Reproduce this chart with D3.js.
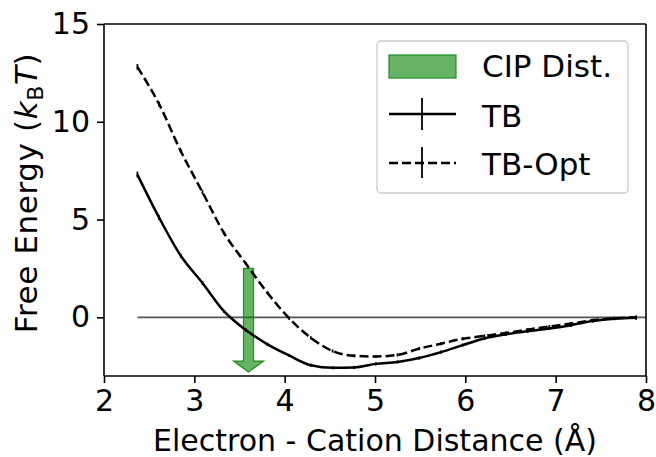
<!doctype html>
<html lang="en">
<head>
  <meta charset="UTF-8" />
  <script src="https://cdn.jsdelivr.net/npm/d3@7"></script>
  <style>
    body { margin: 0; background: white; }
    text { font-family: "DejaVu Sans", sans-serif; fill: black; }
    .axis path, .axis line { stroke: black; stroke-width: 1.6; }
    .axis text { font-size: 30px; }
  </style>
  <title>Free Energy</title>
</head>
<body>
  <script>
    // distances (Å)
    var dist = [2.37, 2.61, 2.85, 3.09, 3.33, 3.57, 3.81, 4.05, 4.29, 4.53, 4.77, 5.01,
      5.25, 5.49, 5.73, 5.97, 6.21, 6.45, 6.69, 6.93, 7.17, 7.41, 7.65, 7.89];
    var tb = [7.3, 5.1, 3.15, 1.76, 0.3, -0.65, -1.38, -1.95, -2.45, -2.58, -2.56, -2.38,
      -2.28, -2.08, -1.78, -1.42, -1.08, -0.87, -0.71, -0.57, -0.40, -0.19, -0.07, -0.02];
    var tbOpt = [12.8, 10.9, 8.5, 6.4, 4.3, 2.75, 1.25, -0.05, -1.05, -1.72, -1.97, -2.0,
      -1.92, -1.6, -1.35, -1.1, -0.95, -0.8, -0.63, -0.47, -0.32, -0.15, -0.05, 0.0];
    var tbErr = [0.15, 0.12, 0.1, 0.1, 0.08, 0.08, 0.08, 0.08, 0.08, 0.08, 0.08, 0.08,
      0.08, 0.08, 0.08, 0.08, 0.08, 0.08, 0.08, 0.08, 0.08, 0.08, 0.08, 0.1];
    var optErr = [0.15, 0.12, 0.1, 0.1, 0.08, 0.08, 0.08, 0.08, 0.08, 0.08, 0.08, 0.08,
      0.08, 0.08, 0.08, 0.08, 0.08, 0.08, 0.08, 0.08, 0.08, 0.08, 0.08, 0.1];
    var xTicks = [2, 3, 4, 5, 6, 7, 8];
    var yTicks = [0, 5, 10, 15];
    var cipX = 3.6, cipTop = 2.5, cipBottom = -2.8;
    var zeroLine = [2.37, 8];
    var legendLabels = ["CIP Dist.", "TB", "TB-Opt"];

    var W = 656, H = 457;
    var svg = d3.select("body").append("svg").attr("width", W).attr("height", H);

    var x = d3.scaleLinear().domain([2, 8]).range([104, 646]);
    var y = d3.scaleLinear().domain([-3, 15]).range([376, 24]);

    // zero reference line
    svg.append("line")
      .attr("x1", x(zeroLine[0])).attr("x2", x(zeroLine[1]))
      .attr("y1", y(0)).attr("y2", y(0))
      .attr("stroke", "#555").attr("stroke-width", 1.6);

    // CIP arrow
    var shaftHalf = 5, headHalf = 15, headLen = 11;
    var ax = x(cipX), aTop = y(cipTop), aTip = y(cipBottom);
    svg.append("path")
      .attr("d", "M" + (ax - shaftHalf) + "," + aTop +
        "H" + (ax + shaftHalf) + "V" + (aTip - headLen) +
        "H" + (ax + headHalf) + "L" + ax + "," + aTip +
        "L" + (ax - headHalf) + "," + (aTip - headLen) +
        "H" + (ax - shaftHalf) + "Z")
      .attr("fill", "rgba(0,128,0,0.6)")
      .attr("stroke", "rgb(30,140,30)").attr("stroke-width", 1.2);

    var line = d3.line()
      .curve(d3.curveMonotoneX)
      .x(function (d) { return x(d[0]); })
      .y(function (d) { return y(d[1]); });

    function drawSeries(vals, errs, dash) {
      var pts = dist.map(function (d, i) { return [d, vals[i], errs[i]]; });
      svg.append("path").datum(pts)
        .attr("d", line)
        .attr("fill", "none").attr("stroke", "black").attr("stroke-width", 2.5)
        .attr("stroke-dasharray", dash);
      svg.append("g").selectAll("line").data(pts).enter().append("line")
        .attr("x1", function (d) { return x(d[0]); })
        .attr("x2", function (d) { return x(d[0]); })
        .attr("y1", function (d) { return y(d[1] - d[2]); })
        .attr("y2", function (d) { return y(d[1] + d[2]); })
        .attr("stroke", "black").attr("stroke-width", 1.8);
    }
    drawSeries(tb, tbErr, null);
    drawSeries(tbOpt, optErr, "9,4");

    // axes
    svg.append("g").attr("class", "axis")
      .attr("transform", "translate(0," + y(-3) + ")")
      .call(d3.axisBottom(x).tickValues(xTicks).tickSize(7).tickPadding(7).tickFormat(d3.format("d")))
      .call(function (g) { g.select(".domain").attr("d", "M104,0H646"); });
    svg.append("g").attr("class", "axis")
      .attr("transform", "translate(" + x(2) + ",0)")
      .call(d3.axisLeft(y).tickValues(yTicks).tickSize(7).tickPadding(7).tickFormat(d3.format("d")))
      .call(function (g) { g.select(".domain").attr("d", "M0,24V376"); });
    svg.append("line").attr("x1", 104).attr("x2", 646).attr("y1", 24).attr("y2", 24)
      .attr("stroke", "black").attr("stroke-width", 1.6);
    svg.append("line").attr("x1", 646).attr("x2", 646).attr("y1", 24).attr("y2", 376)
      .attr("stroke", "black").attr("stroke-width", 1.6);
    svg.selectAll(".axis .tick text").attr("fill", "black");

    // axis labels
    svg.append("text")
      .attr("x", (104 + 646) / 2).attr("y", 451)
      .attr("text-anchor", "middle").style("font-size", "30px")
      .text("Electron - Cation Distance (Å)");

    var yl = svg.append("text")
      .attr("transform", "translate(37,193) rotate(-90)")
      .attr("text-anchor", "middle").style("font-size", "31px")
      .style("letter-spacing", "0.6px");
    yl.append("tspan").text("Free Energy (");
    yl.append("tspan").style("font-style", "italic").text("k");
    yl.append("tspan").style("font-size", "22px").attr("dy", 6).text("B");
    yl.append("tspan").style("font-style", "italic").attr("dy", -6).text("T");
    yl.append("tspan").text(")");

    // legend
    var lg = svg.append("g");
    lg.append("rect").attr("x", 377).attr("y", 41).attr("width", 251).attr("height", 152)
      .attr("rx", 4).attr("fill", "white").attr("stroke", "#ccc").attr("stroke-width", 1.3);
    lg.append("rect").attr("x", 389).attr("y", 55).attr("width", 67).attr("height", 23)
      .attr("fill", "rgba(0,128,0,0.6)").attr("stroke", "rgb(30,140,30)").attr("stroke-width", 1.2);
    lg.append("line").attr("x1", 389).attr("x2", 456).attr("y1", 114).attr("y2", 114)
      .attr("stroke", "black").attr("stroke-width", 2.5);
    lg.append("line").attr("x1", 422).attr("x2", 422).attr("y1", 98).attr("y2", 130)
      .attr("stroke", "black").attr("stroke-width", 1.8);
    lg.append("line").attr("x1", 389).attr("x2", 456).attr("y1", 163).attr("y2", 163)
      .attr("stroke", "black").attr("stroke-width", 2.5).attr("stroke-dasharray", "9,4");
    lg.append("line").attr("x1", 422).attr("x2", 422).attr("y1", 147).attr("y2", 178)
      .attr("stroke", "black").attr("stroke-width", 1.8);
    var ly = [77, 127, 175];
    lg.selectAll("text.lab").data(legendLabels).enter().append("text")
      .attr("class", "lab")
      .attr("x", 482).attr("y", function (d, i) { return ly[i]; })
      .style("font-size", "31px")
      .text(function (d) { return d; });
  </script>
</body>
</html>
